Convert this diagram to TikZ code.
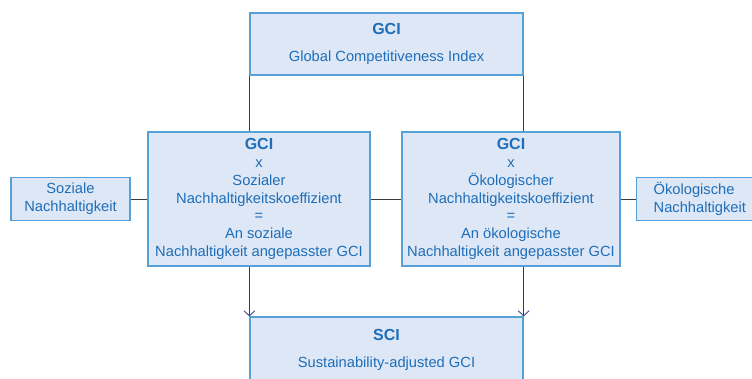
\documentclass[tikz,border=0pt]{standalone}
\usepackage{fontspec}
\setmainfont{Liberation Sans}
\usetikzlibrary{arrows.meta}
\definecolor{txt}{RGB}{30,110,185}
\definecolor{fillc}{RGB}{222,231,245}
\definecolor{edgec}{RGB}{85,160,215}
\definecolor{linc}{RGB}{60,60,60}
\definecolor{arrc}{RGB}{70,70,150}
\begin{document}
\begin{tikzpicture}[x=1pt,y=-1pt,
  box/.style={draw=edgec, fill=fillc, line width=1.3pt, text=txt, align=center,
    font=\fontsize{14.7}{17.8}\selectfont, inner sep=0pt},
  conn/.style={draw=linc, line width=1pt},
  arr/.style={conn, -{Straight Barb[length=5pt,width=11pt,line width=0.9pt,color=arrc]}}
]
\clip (0,0) rectangle (752,378);
\fill[white] (0,0) rectangle (752,378);
\node[box, minimum width=273, minimum height=62] (top) at (386.5,44)
  {{\bfseries\fontsize{16}{18}\selectfont GCI}\\[9pt]Global Competitiveness Index};
\node[box, minimum width=222, minimum height=134] (lmid) at (259,199)
  {{\bfseries\fontsize{16}{18}\selectfont GCI}\\x\\Sozialer\\Nachhaltigkeitskoeffizient\\=\\An soziale\\Nachhaltigkeit angepasster GCI};
\node[box, minimum width=218, minimum height=134] (rmid) at (511,199)
  {{\bfseries\fontsize{16}{18}\selectfont GCI}\\x\\Ökologischer\\Nachhaltigkeitskoeffizient\\=\\An ökologische\\Nachhaltigkeit angepasster GCI};
\node[box, minimum width=119, minimum height=43] (lsmall) at (70.5,199)
  {Soziale\\Nachhaltigkeit};
\node[box, anchor=west, align=left, inner xsep=17pt, text width=96pt, minimum height=43] (rsmall) at (636,199)
  {Ökologische\\Nachhaltigkeit};
\node[box, minimum width=273, minimum height=66] (bot) at (386.5,350)
  {{\bfseries\fontsize{16}{18}\selectfont SCI}\\[9pt]Sustainability-adjusted GCI};
\draw[conn] (top.south west) -- (top.south west |- lmid.north);
\draw[conn] (top.south east) -- (top.south east |- rmid.north);
\draw[conn] (lsmall.east) -- (lmid.west);
\draw[conn] (lmid.east) -- (rmid.west);
\draw[conn] (rmid.east) -- (rsmall.west);
\draw[arr] (bot.north west |- lmid.south) -- (bot.north west);
\draw[arr] (bot.north east |- rmid.south) -- (bot.north east);
\end{tikzpicture}
\end{document}
